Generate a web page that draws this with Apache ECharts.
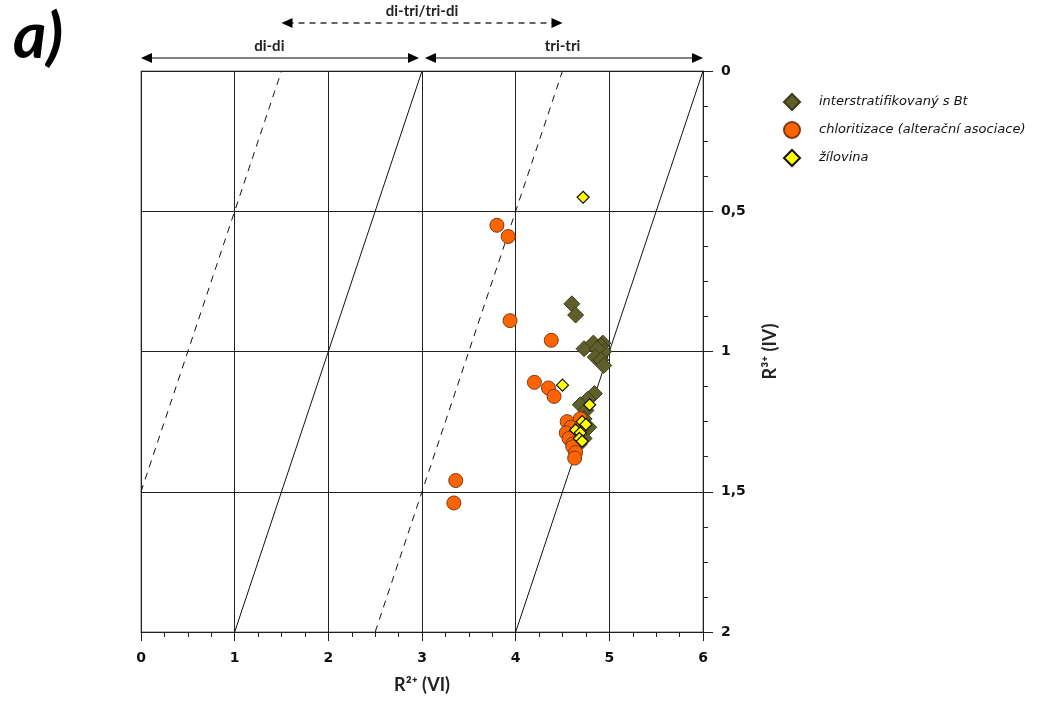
<!DOCTYPE html>
<html>
<head>
<meta charset="UTF-8">
<title>R2+ / R3+</title>
<script src="https://cdn.jsdelivr.net/npm/echarts@6/dist/echarts.min.js"></script>
<style>
  html, body { margin: 0; padding: 0; background: #fff; }
  #main { width: 1057px; height: 704px; }
</style>
</head>
<body>
<div id="main"></div>
<script type="text/javascript">
// data [R2+ (VI), R3+ (IV)]
var interstratifikovany = [
  [4.60, 0.83], [4.64, 0.87], [4.73, 0.99], [4.83, 0.97], [4.93, 0.97],
  [4.91, 0.98], [4.94, 1.00], [4.87, 0.99], [4.85, 1.02], [4.91, 1.03],
  [4.94, 1.05], [4.84, 1.15], [4.77, 1.17], [4.69, 1.19], [4.75, 1.21],
  [4.73, 1.24], [4.78, 1.27], [4.69, 1.28], [4.73, 1.31], [4.68, 1.33]
];
var chloritizace = [
  [3.80, 0.55], [3.92, 0.59], [3.94, 0.89], [4.38, 0.96], [4.20, 1.11],
  [4.35, 1.13], [4.41, 1.16], [3.36, 1.46], [3.34, 1.54], [4.55, 1.25],
  [4.69, 1.24], [4.59, 1.27], [4.54, 1.29], [4.69, 1.27], [4.64, 1.30],
  [4.57, 1.31], [4.61, 1.33], [4.61, 1.34], [4.64, 1.36], [4.63, 1.38]
];
var zilovina = [
  [4.72, 0.45], [4.50, 1.12], [4.79, 1.19], [4.71, 1.25], [4.75, 1.26],
  [4.64, 1.28], [4.69, 1.29], [4.68, 1.31], [4.71, 1.32]
];

// reference lines (solid / dashed)
var solidLines = [
  [[1, 2], [3, 0]],
  [[4, 2], [6, 0]]
];
var dashedLines = [
  [[0, 1.5], [1.5, 0]],
  [[2.5, 2], [4.5, 0]]
];

// header ranges on the R2+ axis
var headerRanges = [
  { from: 0, to: 3, text: 'di-di', textAt: 1.37, dashed: false },
  { from: 3, to: 6, text: 'tri-tri', textAt: 4.5, dashed: false },
  { from: 1.5, to: 4.5, text: 'di-tri/tri-di', textAt: 3, dashed: true }
];

var xTicks = [0, 1, 2, 3, 4, 5, 6];
var yTicks = [0, 0.5, 1, 1.5, 2];

var refSeries = [];
solidLines.forEach(function(l) {
  refSeries.push({
    type: 'line', data: l, showSymbol: false, silent: true, z: 1,
    lineStyle: { color: '#111', width: 1 }
  });
});
dashedLines.forEach(function(l) {
  refSeries.push({
    type: 'line', data: l, showSymbol: false, silent: true, z: 1,
    lineStyle: { color: '#111', width: 1, type: [7, 6] }
  });
});

var chart = echarts.init(document.getElementById('main'));

chart.setOption({
  animation: false,
  title: {
    text: 'a)', left: 8, top: 0,
    textStyle: { fontFamily: 'Lato', fontStyle: 'italic', fontWeight: 'bold', fontSize: 64, color: '#000' }
  },
  legend: {
    orient: 'vertical', left: 778, top: 88,
    itemWidth: 16, itemHeight: 16, itemGap: 10,
    data: ['interstratifikovaný s Bt', 'chloritizace (alterační asociace)', 'žílovina'],
    textStyle: { fontFamily: 'DejaVu Sans', fontStyle: 'italic', fontSize: 13, color: '#111', padding: [0, 0, 0, 14] }
  },
  grid: {
    left: 141, top: 71, width: 562, height: 561,
    show: true, borderColor: '#777', borderWidth: 1
  },
  xAxis: {
    type: 'value', min: 0, max: 6, interval: 1,
    name: 'R²⁺ (VI)', nameLocation: 'middle', nameGap: 44,
    nameTextStyle: { fontFamily: 'Lato', fontWeight: 'bold', fontSize: 18, color: '#222' },
    axisLine: { show: true, onZero: false, lineStyle: { color: '#222' } },
    axisTick: { show: true, length: 9, lineStyle: { color: '#222' } },
    minorTick: { show: true, splitNumber: 4, length: 5, lineStyle: { color: '#222' } },
    splitLine: { show: true, lineStyle: { color: '#222', width: 1 } },
    axisLabel: {
      margin: 19, fontFamily: 'DejaVu Sans', fontWeight: 'bold', fontSize: 14, color: '#111',
      formatter: function(v) { return xTicks.indexOf(v) >= 0 ? String(v) : ''; }
    }
  },
  yAxis: {
    type: 'value', min: 0, max: 2, interval: 0.5, inverse: true, position: 'right',
    name: 'R³⁺ (IV)', nameLocation: 'middle', nameGap: 58, nameRotate: 90,
    nameTextStyle: { fontFamily: 'Lato', fontWeight: 'bold', fontSize: 18, color: '#222' },
    axisLine: { show: true, onZero: false, lineStyle: { color: '#222' } },
    axisTick: { show: true, length: 10, lineStyle: { color: '#222' } },
    minorTick: { show: true, splitNumber: 4, length: 5, lineStyle: { color: '#222' } },
    splitLine: { show: true, lineStyle: { color: '#222', width: 1 } },
    axisLabel: {
      margin: 18, fontFamily: 'DejaVu Sans', fontWeight: 'bold', fontSize: 14, color: '#111',
      formatter: function(v) { return yTicks.indexOf(v) >= 0 ? String(v).replace('.', ',') : ''; }
    }
  },
  series: refSeries.concat([
    {
      name: 'interstratifikovaný s Bt', type: 'scatter', data: interstratifikovany,
      symbol: 'diamond', symbolSize: 16, z: 3,
      itemStyle: { color: '#5f5f2c', borderColor: '#3a3a1a', borderWidth: 1, opacity: 1 }
    },
    {
      name: 'chloritizace (alterační asociace)', type: 'scatter', data: chloritizace,
      symbol: 'circle', symbolSize: 14, z: 3,
      itemStyle: { color: '#ff6400', borderColor: '#7a3a14', borderWidth: 1, opacity: 1 }
    },
    {
      name: 'žílovina', type: 'scatter', data: zilovina,
      symbol: 'diamond', symbolSize: 12, z: 4,
      itemStyle: { color: '#ffff00', borderColor: '#111', borderWidth: 1.2, opacity: 1 }
    }
  ])
});

// header arrows above the plot, positioned from the x axis scale
function px(x) { return chart.convertToPixel({ xAxisIndex: 0 }, x); }

function arrowHead(tipX, y, dir) {
  return {
    type: 'polygon',
    shape: { points: [[tipX, y], [tipX - dir * 11, y - 5], [tipX - dir * 11, y + 5]] },
    style: { fill: '#000' }
  };
}

var graphics = [];
headerRanges.forEach(function(r) {
  var y = r.dashed ? 23 : 58;
  var x1 = px(r.from) + (r.from === 3 ? 3 : 0);
  var x2 = px(r.to) - (r.to === 3 ? 3 : 0);
  graphics.push({
    type: 'line',
    shape: { x1: x1 + 6, y1: y, x2: x2 - 6, y2: y },
    style: { stroke: r.dashed ? '#333' : '#000', lineWidth: r.dashed ? 1.3 : 1, lineDash: r.dashed ? [6, 5] : null }
  });
  graphics.push(arrowHead(x1, y, -1));
  graphics.push(arrowHead(x2, y, 1));
  graphics.push({
    type: 'text',
    x: px(r.textAt), y: y - 4,
    style: {
      text: r.text, align: 'center', verticalAlign: 'bottom',
      font: 'bold 15px Lato', fill: '#222'
    }
  });
});
chart.setOption({ graphic: graphics });
</script>
</body>
</html>
